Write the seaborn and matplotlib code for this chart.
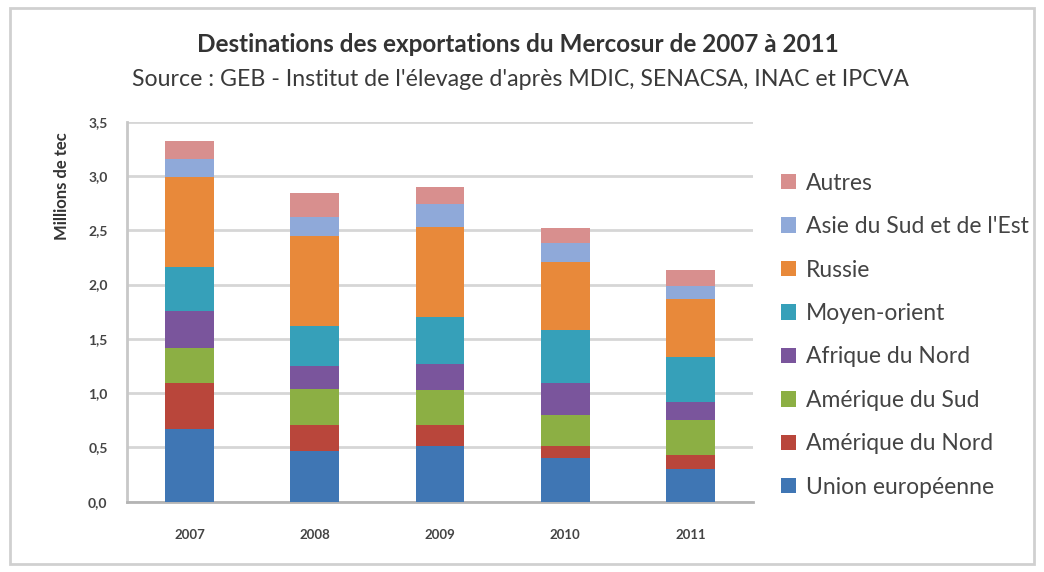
import pandas as pd
import seaborn as sns
import matplotlib.pyplot as plt
from matplotlib.patches import Rectangle, Patch

years = ['2007', '2008', '2009', '2010', '2011']

# millions de tec (bottom segment first)
union_europeenne = [0.67, 0.47, 0.51, 0.40, 0.30]
amerique_nord = [0.42, 0.24, 0.20, 0.11, 0.13]
amerique_sud = [0.33, 0.33, 0.32, 0.29, 0.32]
afrique_nord = [0.34, 0.21, 0.24, 0.29, 0.17]
moyen_orient = [0.40, 0.37, 0.43, 0.49, 0.41]
russie = [0.83, 0.83, 0.83, 0.63, 0.54]
asie = [0.17, 0.17, 0.21, 0.17, 0.12]
autres = [0.16, 0.22, 0.16, 0.14, 0.14]

series = [
    ('Union européenne', union_europeenne, '#3f76b4'),
    ('Amérique du Nord', amerique_nord, '#b9463b'),
    ('Amérique du Sud', amerique_sud, '#8caf44'),
    ('Afrique du Nord', afrique_nord, '#7a559c'),
    ('Moyen-orient', moyen_orient, '#36a0b9'),
    ('Russie', russie, '#e8893a'),
    ('Asie du Sud et de l\'Est', asie, '#8fa9d9'),
    ('Autres', autres, '#d88f8e'),
]

df = pd.DataFrame({'Année': years})
running = [0.0] * len(years)
for name, vals, _ in series:
    running = [r + v for r, v in zip(running, vals)]
    df[name] = running

sns.set_style('white')
plt.rcParams['font.family'] = ['Lato', 'DejaVu Sans']

fig = plt.figure(figsize=(10.44, 5.72), dpi=100)
ax = fig.add_axes([0.1217, 0.1229, 0.5996, 0.6643])

# stacked bars: draw cumulative totals from the top down
for name, _, color in reversed(series):
    sns.barplot(data=df, x='Année', y=name, color=color, width=0.39,
                linewidth=0, saturation=1, ax=ax, zorder=3)

ax.set_ylim(0, 3.5)
ax.set_xlim(-0.5, 4.5)
ticks = [0, 0.5, 1.0, 1.5, 2.0, 2.5, 3.0, 3.5]
ax.set_yticks(ticks)
ax.set_yticklabels([f'{t:.1f}'.replace('.', ',') for t in ticks],
                   fontsize=10, fontweight='bold', color='#444444')
ax.set_xticks(range(len(years)))
ax.set_xticklabels(years, fontsize=9.5, fontweight='bold', color='#444444')
ax.tick_params(axis='y', pad=14, length=0)
ax.tick_params(axis='x', pad=20, length=0)
ax.set_xlabel('')
ax.set_ylabel('')
ax.yaxis.grid(True, color='#d6d6d6', linewidth=2, zorder=0)
ax.set_axisbelow(True)
for side in ['top', 'right']:
    ax.spines[side].set_visible(False)
ax.spines['left'].set_color('#c8c8c8')
ax.spines['left'].set_linewidth(2)
ax.spines['bottom'].set_color('#b4b4b4')
ax.spines['bottom'].set_linewidth(2)

fig.text(62 / 1044, 1 - 186 / 572, 'Millions de tec', rotation=90,
         ha='center', va='center', fontsize=12, fontweight='bold', color='#333333')

fig.text(518 / 1044, 1 - 45 / 572,
         'Destinations des exportations du Mercosur de 2007 à 2011',
         ha='center', va='center', fontsize=17.5, fontweight='bold', color='#333333')
fig.text(520 / 1044, 1 - 80 / 572,
         'Source : GEB - Institut de l\'élevage d\'après MDIC, SENACSA, INAC et IPCVA',
         ha='center', va='center', fontsize=16.7, color='#3a3a3a')

handles = [Patch(facecolor=c, edgecolor='none', label=n) for n, _, c in reversed(series)]
leg = fig.legend(handles=handles, loc='upper left',
                 bbox_to_anchor=(760 / 1044, 1 - 152 / 572),
                 frameon=False, fontsize=16.5, labelspacing=0.98,
                 handlelength=0.65, handleheight=0.65, handletextpad=0.45)
for t in leg.get_texts():
    t.set_color('#444444')

fig.patches.append(Rectangle((10 / 1044, 8 / 572), 1 - 20 / 1044, 1 - 16 / 572,
                             transform=fig.transFigure, fill=False,
                             edgecolor='#d0d0d0', linewidth=2))

fig.savefig('out.png', dpi=100, facecolor='white')
